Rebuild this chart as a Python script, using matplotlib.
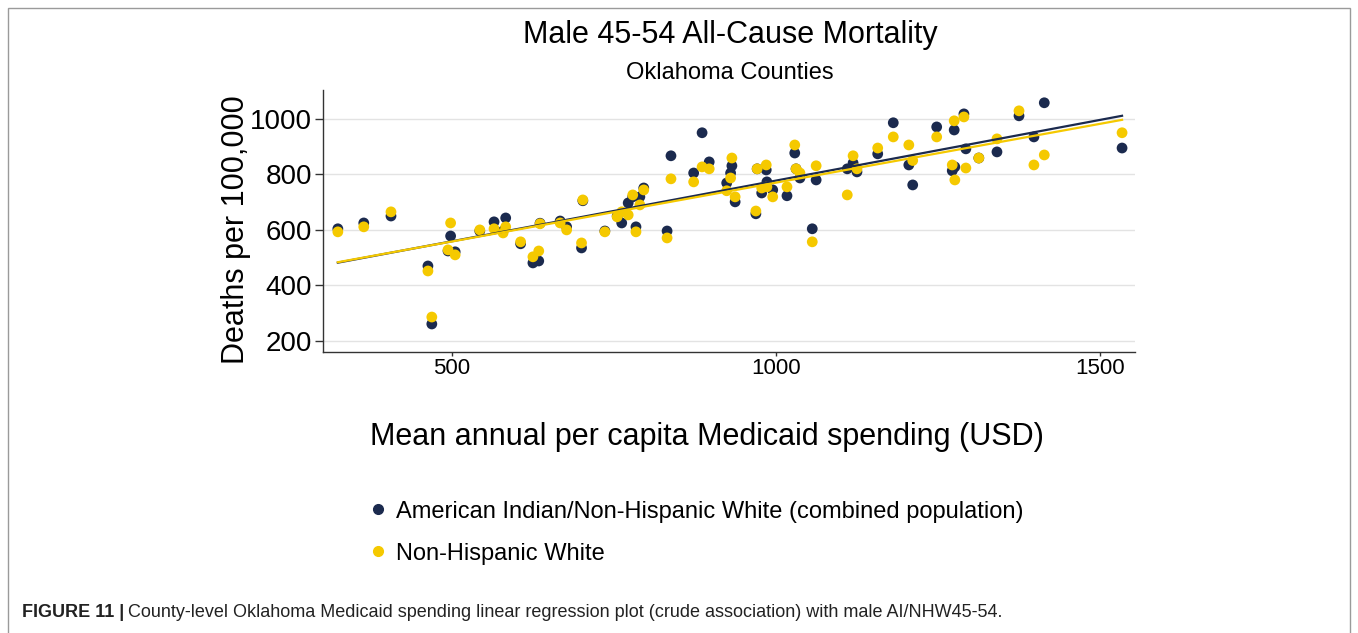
import numpy as np
import matplotlib
matplotlib.use("Agg")
import matplotlib.pyplot as plt
from matplotlib.patches import Rectangle
from matplotlib.lines import Line2D

plt.rcParams['font.family'] = ['Liberation Sans', 'DejaVu Sans']

# County-level mean annual per capita Medicaid spending (USD)
spending = [324, 364, 406, 463, 469, 498, 494, 505, 543, 565,
            583, 579, 606, 636, 625, 634, 667, 677, 702, 700,
            736, 755, 762, 772, 779, 790, 796, 784, 832, 838,
            873, 886, 897, 924, 932, 930, 937, 971, 985, 969,
            978, 986, 995, 1017, 1029, 1031, 1037, 1062, 1056, 1110,
            1119, 1125, 1157, 1181, 1205, 1211, 1248, 1275, 1272, 1276,
            1290, 1293, 1313, 1341, 1375, 1414, 1398, 1534]

# Male 45-54 all-cause deaths per 100,000, AI/NHW combined population
deaths_ai_nhw = [604, 625, 650, 470, 261, 578, 524, 521, 596, 629,
                 643, 596, 550, 624, 481, 488, 632, 611, 705, 535,
                 596, 650, 625, 697, 719, 719, 751, 611, 596, 867,
                 805, 950, 845, 769, 831, 805, 701, 820, 816, 658,
                 733, 773, 744, 723, 877, 820, 787, 780, 604, 820,
                 841, 809, 874, 986, 834, 762, 971, 960, 813, 827,
                 1018, 892, 859, 881, 1011, 1058, 935, 895]

# Male 45-54 all-cause deaths per 100,000, Non-Hispanic White
deaths_nhw = [593, 611, 665, 452, 286, 625, 528, 510, 600, 604,
              611, 589, 557, 622, 503, 524, 625, 600, 708, 553,
              593, 647, 665, 654, 726, 690, 744, 593, 571, 784,
              773, 827, 820, 741, 859, 787, 719, 820, 834, 668,
              751, 755, 719, 755, 906, 820, 805, 831, 557, 726,
              867, 820, 895, 935, 906, 850, 935, 993, 834, 780,
              1007, 823, 859, 928, 1029, 870, 834, 950]

series_labels = ["American Indian/Non-Hispanic White (combined population)",
                 "Non-Hispanic White"]
x_ticks = [500, 1000, 1500]
y_ticks = [200, 400, 600, 800, 1000]

NAVY = "#1b2a4e"
GOLD = "#f5c900"

fig = plt.figure(figsize=(13.58, 6.33), dpi=100)
ax = fig.add_axes([0.2378, 0.4439, 0.598, 0.4139])

x = np.array(spending, dtype=float)
for y, color in ((deaths_ai_nhw, NAVY), (deaths_nhw, GOLD)):
    ax.scatter(x, y, s=60, color=color, edgecolors="none", zorder=3)

# Fitted linear regression lines
xs = np.array([x.min(), x.max()])
for y, color in ((deaths_ai_nhw, NAVY), (deaths_nhw, GOLD)):
    slope, intercept = np.polyfit(x, np.array(y, dtype=float), 1)
    ax.plot(xs, slope * xs + intercept, color=color, lw=1.6, zorder=4)

ax.set_xlim(301, 1554)
ax.set_ylim(160, 1104)
ax.set_xticks(x_ticks)
ax.set_yticks(y_ticks)
ax.yaxis.grid(True, color="#e3e3e3", lw=1)
ax.set_axisbelow(True)
for side in ("top", "right"):
    ax.spines[side].set_visible(False)
for side in ("left", "bottom"):
    ax.spines[side].set_color("#333333")
    ax.spines[side].set_linewidth(1.0)
ax.tick_params(axis="y", labelsize=20, length=6, width=1, pad=2, color="#333333")
ax.tick_params(axis="x", labelsize=16, length=3, width=1, pad=1, color="#333333")

ax.set_ylabel("Deaths per 100,000", fontsize=22)
ax.yaxis.set_label_coords(-0.089, 0.466)
ax.set_xlabel("Mean annual per capita Medicaid spending (USD)", fontsize=22)
ax.xaxis.set_label_coords(0.473, -0.268)

fig.text(0.5376, 0.945, "Male 45-54 All-Cause Mortality", fontsize=22,
         ha="center", va="center")
fig.text(0.5376, 0.884, "Oklahoma Counties", fontsize=17,
         ha="center", va="center")

handles = [Line2D([], [], marker="o", ls="none", color=NAVY, markersize=7),
           Line2D([], [], marker="o", ls="none", color=GOLD, markersize=7)]
fig.legend(handles, series_labels, loc="upper left",
           bbox_to_anchor=(0.261, 0.224), frameon=False, fontsize=17,
           handletextpad=0.15, labelspacing=0.85, borderaxespad=0,
           handlelength=1.2)

cap_bold = fig.text(0.0162, 0.033, "FIGURE 11 |", fontsize=13,
                    fontweight="bold", ha="left", va="center", color="#222222")
fig.canvas.draw()
bb = cap_bold.get_window_extent()
fig.text(bb.x1 / fig.bbox.width + 0.003, 0.033,
         "County-level Oklahoma Medicaid spending linear regression plot "
         "(crude association) with male AI/NHW45-54.",
         fontsize=13, ha="left", va="center", color="#222222")

fig.patches.append(Rectangle((0.0059, -0.05), 0.9882, 1.037,
                             transform=fig.transFigure, fill=False,
                             edgecolor="#9a9a9a", lw=1.0))

fig.savefig("out.png", dpi=100)
